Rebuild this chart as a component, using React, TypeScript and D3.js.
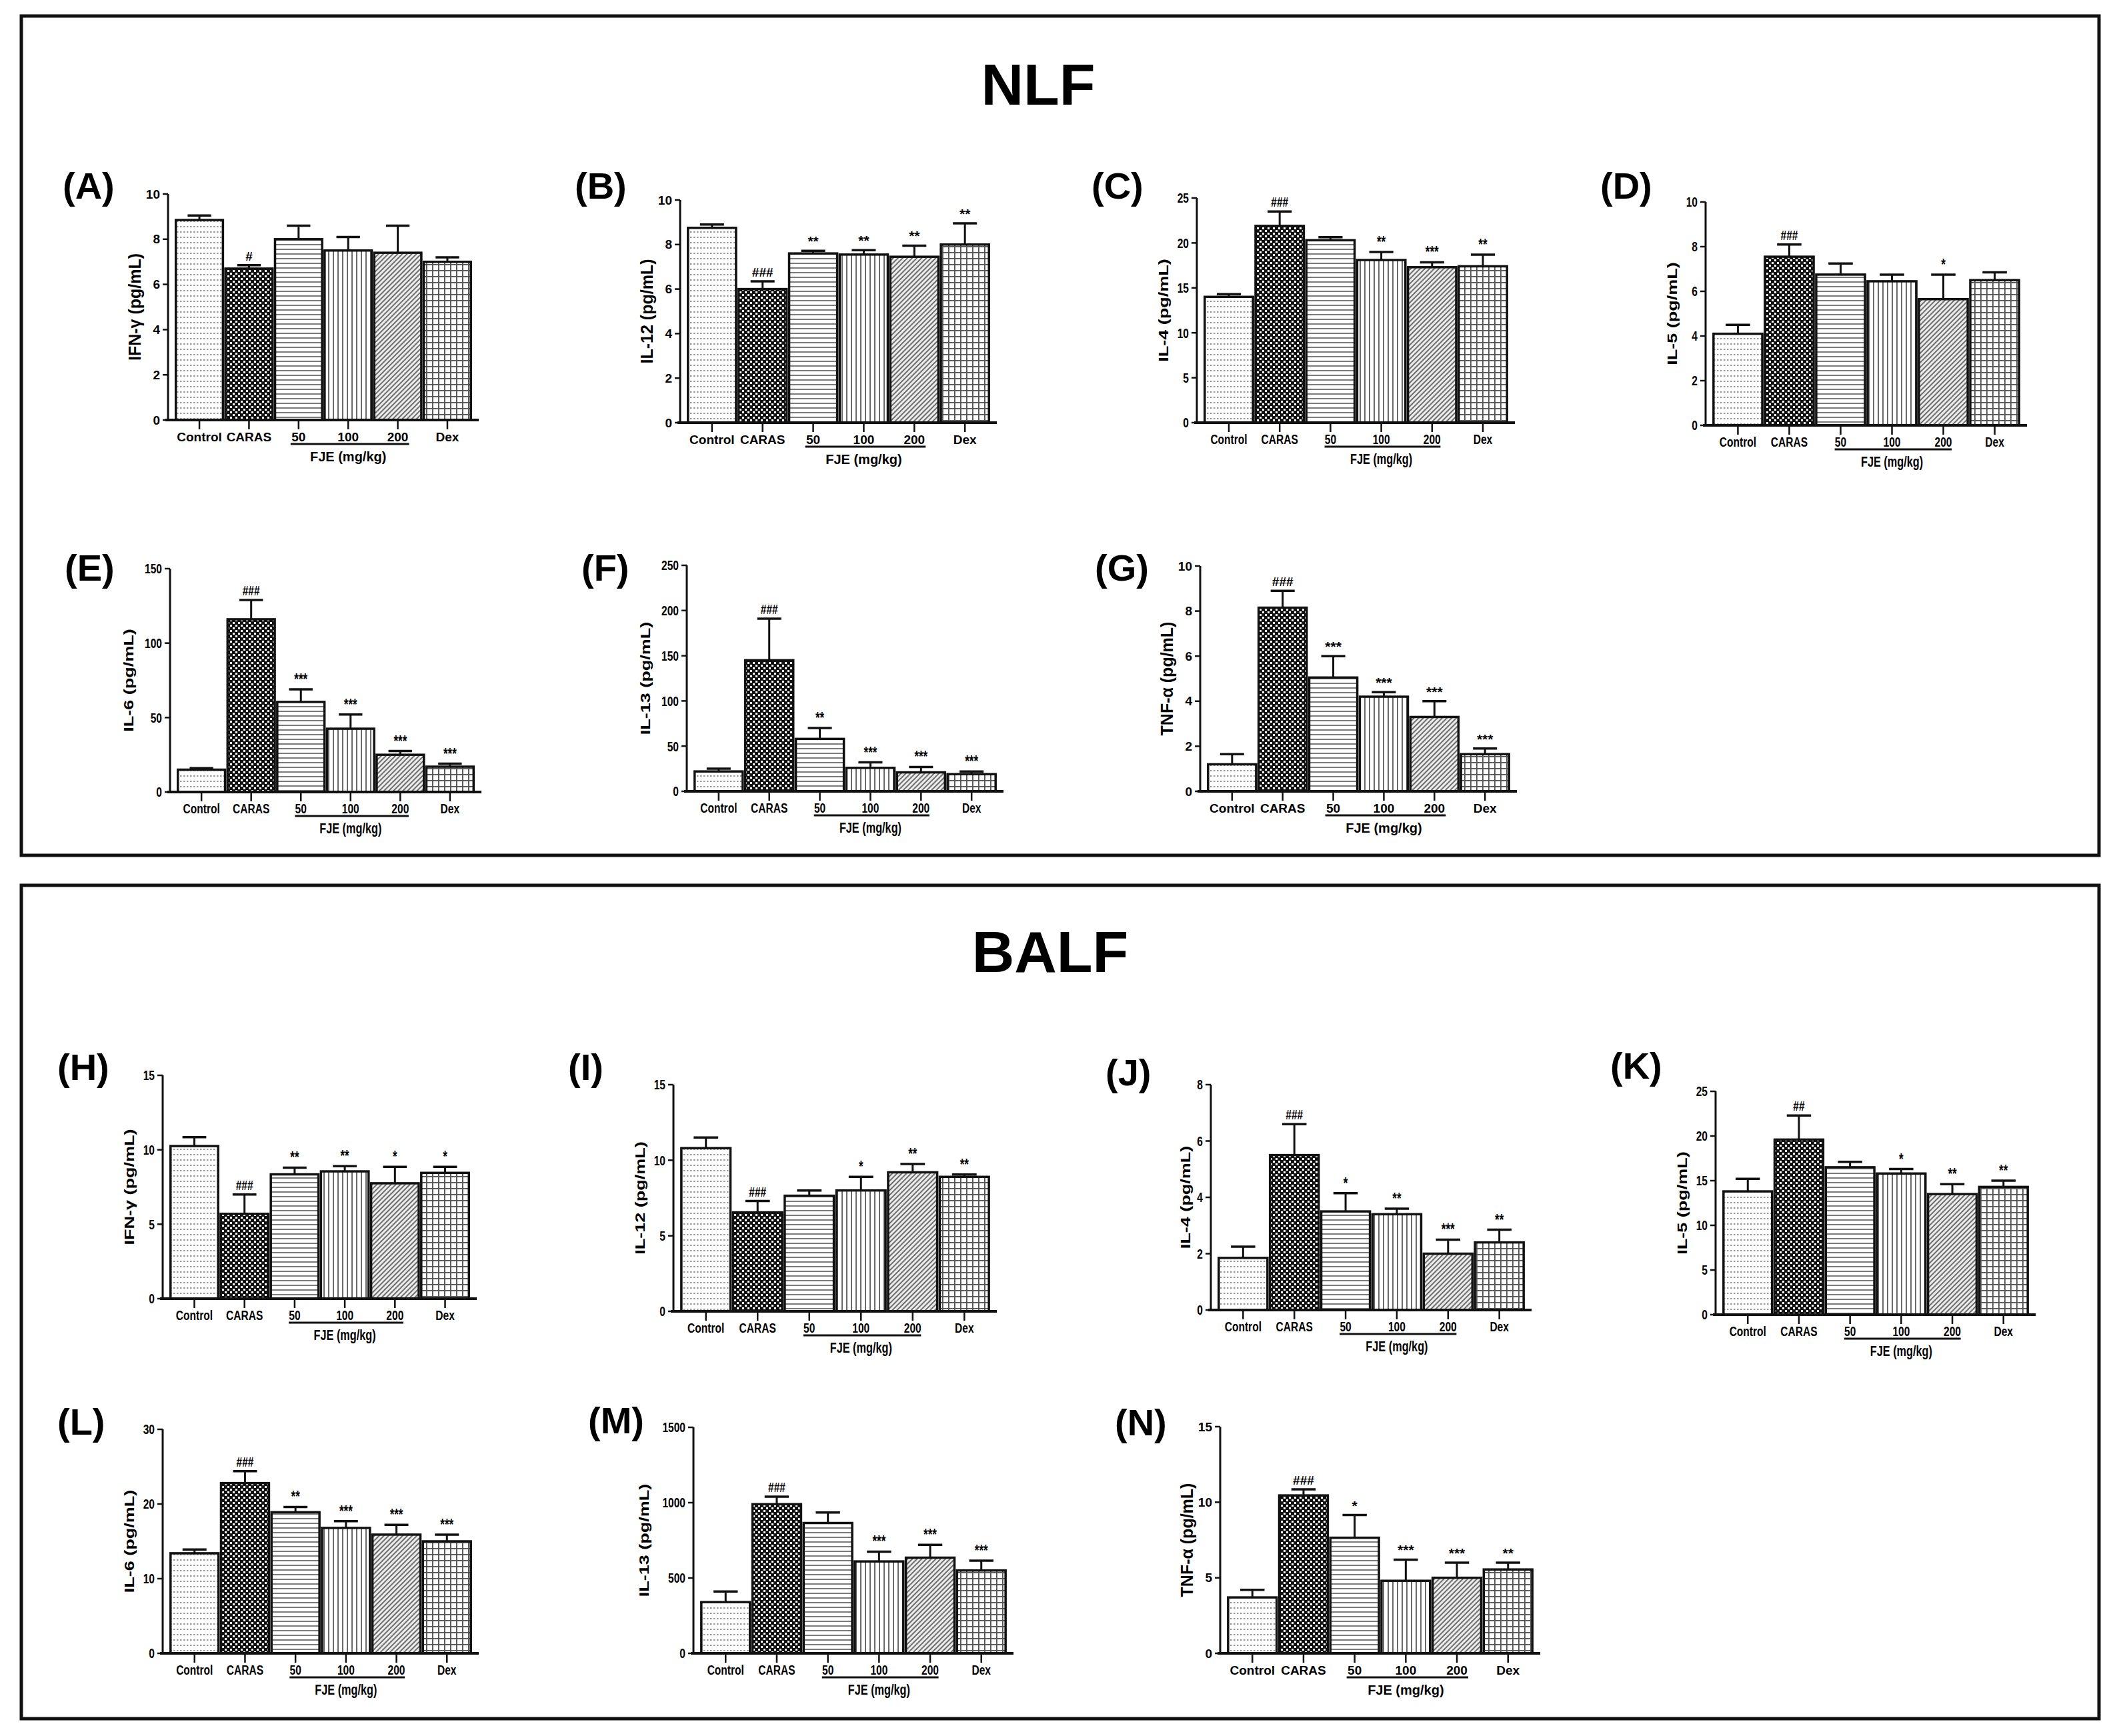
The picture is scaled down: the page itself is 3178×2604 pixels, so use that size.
import React from "react";
import * as d3 from "d3";

// groups on the x axis
const categories = ["Control", "CARAS", "50", "100", "200", "Dex"];

// NLF
const nlfIfnMean = [8.85, 6.7, 8.0, 7.5, 7.4, 7.0];
const nlfIfnErr = [0.2, 0.15, 0.6, 0.6, 1.2, 0.2];
const nlfIfnSig = ["", "#", "", "", "", ""];
const nlfIfnTicks = [0, 2, 4, 6, 8, 10];

const nlfIl12Mean = [8.75, 6.0, 7.6, 7.55, 7.45, 8.0];
const nlfIl12Err = [0.15, 0.35, 0.12, 0.2, 0.5, 0.95];
const nlfIl12Sig = ["", "###", "**", "**", "**", "**"];
const nlfIl12Ticks = [0, 2, 4, 6, 8, 10];

const nlfIl4Mean = [14.0, 21.9, 20.3, 18.1, 17.3, 17.4];
const nlfIl4Err = [0.3, 1.6, 0.35, 0.9, 0.55, 1.3];
const nlfIl4Sig = ["", "###", "", "**", "***", "**"];
const nlfIl4Ticks = [0, 5, 10, 15, 20, 25];

const nlfIl5Mean = [4.1, 7.55, 6.75, 6.45, 5.65, 6.5];
const nlfIl5Err = [0.4, 0.55, 0.5, 0.3, 1.1, 0.35];
const nlfIl5Sig = ["", "###", "", "", "*", ""];
const nlfIl5Ticks = [0, 2, 4, 6, 8, 10];

const nlfIl6Mean = [15, 116, 60.5, 42.5, 25, 17];
const nlfIl6Err = [1, 13, 8.5, 9.5, 2.5, 2];
const nlfIl6Sig = ["", "###", "***", "***", "***", "***"];
const nlfIl6Ticks = [0, 50, 100, 150];

const nlfIl13Mean = [22, 145, 58, 26, 21, 19];
const nlfIl13Err = [3, 46, 12, 6, 6, 3];
const nlfIl13Sig = ["", "###", "**", "***", "***", "***"];
const nlfIl13Ticks = [0, 50, 100, 150, 200, 250];

const nlfTnfMean = [1.2, 8.15, 5.05, 4.2, 3.3, 1.65];
const nlfTnfErr = [0.45, 0.75, 0.95, 0.2, 0.7, 0.25];
const nlfTnfSig = ["", "###", "***", "***", "***", "***"];
const nlfTnfTicks = [0, 2, 4, 6, 8, 10];

// BALF
const balfIfnMean = [10.25, 5.7, 8.35, 8.55, 7.75, 8.45];
const balfIfnErr = [0.6, 1.3, 0.45, 0.35, 1.1, 0.4];
const balfIfnSig = ["", "###", "**", "**", "*", "*"];
const balfIfnTicks = [0, 5, 10, 15];

const balfIl12Mean = [10.8, 6.55, 7.65, 8.0, 9.2, 8.9];
const balfIl12Err = [0.7, 0.75, 0.35, 0.9, 0.55, 0.15];
const balfIl12Sig = ["", "###", "", "*", "**", "**"];
const balfIl12Ticks = [0, 5, 10, 15];

const balfIl4Mean = [1.85, 5.5, 3.5, 3.4, 2.0, 2.4];
const balfIl4Err = [0.4, 1.1, 0.65, 0.2, 0.5, 0.45];
const balfIl4Sig = ["", "###", "*", "**", "***", "**"];
const balfIl4Ticks = [0, 2, 4, 6, 8];

const balfIl5Mean = [13.8, 19.6, 16.5, 15.8, 13.5, 14.3];
const balfIl5Err = [1.4, 2.7, 0.6, 0.5, 1.1, 0.7];
const balfIl5Sig = ["", "##", "", "*", "**", "**"];
const balfIl5Ticks = [0, 5, 10, 15, 20, 25];

const balfIl6Mean = [13.4, 22.8, 18.9, 16.8, 15.9, 15.0];
const balfIl6Err = [0.5, 1.6, 0.7, 0.9, 1.3, 0.9];
const balfIl6Sig = ["", "###", "**", "***", "***", "***"];
const balfIl6Ticks = [0, 10, 20, 30];

const balfIl13Mean = [340, 990, 865, 610, 635, 550];
const balfIl13Err = [70, 50, 70, 65, 85, 65];
const balfIl13Sig = ["", "###", "", "***", "***", "***"];
const balfIl13Ticks = [0, 500, 1000, 1500];

const balfTnfMean = [3.7, 10.45, 7.65, 4.8, 5.0, 5.55];
const balfTnfErr = [0.5, 0.4, 1.5, 1.4, 1.0, 0.45];
const balfTnfSig = ["", "###", "*", "***", "***", "**"];
const balfTnfTicks = [0, 5, 10, 15];

const fills = ["url(#pDots)", "url(#pCheck)", "url(#pHoriz)", "url(#pVert)", "url(#pDiag)", "url(#pGrid)"];

interface PanelDef {
	tag: string;
	ylab: string;
	mean: number[];
	err: number[];
	sig: string[];
	ticks: number[];
	narrow: boolean;
	ax: number;
	top: number;
	bot: number;
	end: number;
	tagY: number;
}

const panels: PanelDef[] = [
	{ tag: "(A)", ylab: "IFN-\u03b3  (pg/mL)", mean: nlfIfnMean, err: nlfIfnErr, sig: nlfIfnSig, ticks: nlfIfnTicks, narrow: false, ax: 252, top: 291, bot: 630, end: 718, tagY: 278 },
	{ tag: "(B)", ylab: "IL-12  (pg/mL)", mean: nlfIl12Mean, err: nlfIl12Err, sig: nlfIl12Sig, ticks: nlfIl12Ticks, narrow: false, ax: 1020, top: 300, bot: 634, end: 1495, tagY: 278 },
	{ tag: "(C)", ylab: "IL-4  (pg/mL)", mean: nlfIl4Mean, err: nlfIl4Err, sig: nlfIl4Sig, ticks: nlfIl4Ticks, narrow: true, ax: 1795, top: 297, bot: 634, end: 2272, tagY: 278 },
	{ tag: "(D)", ylab: "IL-5  (pg/mL)", mean: nlfIl5Mean, err: nlfIl5Err, sig: nlfIl5Sig, ticks: nlfIl5Ticks, narrow: true, ax: 2558, top: 303, bot: 638, end: 3040, tagY: 278 },
	{ tag: "(E)", ylab: "IL-6  (pg/mL)", mean: nlfIl6Mean, err: nlfIl6Err, sig: nlfIl6Sig, ticks: nlfIl6Ticks, narrow: true, ax: 255, top: 853, bot: 1188, end: 722, tagY: 851 },
	{ tag: "(F)", ylab: "IL-13  (pg/mL)", mean: nlfIl13Mean, err: nlfIl13Err, sig: nlfIl13Sig, ticks: nlfIl13Ticks, narrow: true, ax: 1030, top: 848, bot: 1187, end: 1505, tagY: 851 },
	{ tag: "(G)", ylab: "TNF-\u03b1 (pg/mL)", mean: nlfTnfMean, err: nlfTnfErr, sig: nlfTnfSig, ticks: nlfTnfTicks, narrow: false, ax: 1800, top: 849, bot: 1187, end: 2275, tagY: 851 },
	{ tag: "(H)", ylab: "IFN-\u03b3  (pg/mL)", mean: balfIfnMean, err: balfIfnErr, sig: balfIfnSig, ticks: balfIfnTicks, narrow: true, ax: 244, top: 1613, bot: 1948, end: 715, tagY: 1600 },
	{ tag: "(I)", ylab: "IL-12  (pg/mL)", mean: balfIl12Mean, err: balfIl12Err, sig: balfIl12Sig, ticks: balfIl12Ticks, narrow: true, ax: 1010, top: 1627, bot: 1967, end: 1495, tagY: 1600 },
	{ tag: "(J)", ylab: "IL-4  (pg/mL)", mean: balfIl4Mean, err: balfIl4Err, sig: balfIl4Sig, ticks: balfIl4Ticks, narrow: true, ax: 1816, top: 1627, bot: 1965, end: 2297, tagY: 1608 },
	{ tag: "(K)", ylab: "IL-5  (pg/mL)", mean: balfIl5Mean, err: balfIl5Err, sig: balfIl5Sig, ticks: balfIl5Ticks, narrow: true, ax: 2573, top: 1637, bot: 1972, end: 3053, tagY: 1598 },
	{ tag: "(L)", ylab: "IL-6  (pg/mL)", mean: balfIl6Mean, err: balfIl6Err, sig: balfIl6Sig, ticks: balfIl6Ticks, narrow: true, ax: 244, top: 2144, bot: 2480, end: 718, tagY: 2132 },
	{ tag: "(M)", ylab: "IL-13  (pg/mL)", mean: balfIl13Mean, err: balfIl13Err, sig: balfIl13Sig, ticks: balfIl13Ticks, narrow: true, ax: 1040, top: 2141, bot: 2480, end: 1520, tagY: 2130 },
	{ tag: "(N)", ylab: "TNF-\u03b1 (pg/mL)", mean: balfTnfMean, err: balfTnfErr, sig: balfTnfSig, ticks: balfTnfTicks, narrow: false, ax: 1830, top: 2140, bot: 2480, end: 2310, tagY: 2133 },
];

const font = "'Liberation Sans', Arial, Helvetica, sans-serif";

function Panel({ p }: { p: PanelDef }) {
	const sx = p.narrow ? 0.74 : 1;
	const fs = p.narrow ? 21 : 19; // narrow panels were squeezed from a wider original
	const y = d3
		.scaleLinear()
		.domain([0, p.ticks[p.ticks.length - 1]])
		.range([p.bot, p.top]);
	const x = d3
		.scaleBand()
		.domain(categories)
		.range([p.ax + 8, p.end - 8])
		.paddingInner(0.05)
		.paddingOuter(0.05);
	const bw = x.bandwidth();
	const cx = (c: string) => (x(c) || 0) + bw / 2;
	const catY = p.bot + 32;
	// push the axis title left when tick labels are wide
	const digits = String(p.ticks[p.ticks.length - 1]).length;
	const labOff = 50 + (digits - 2) * 12;

	return (
		<g fontFamily={font} fontWeight="bold" fill="#000">
			{/* panel tag */}
			<text x={p.ax - 158} y={p.tagY} fontSize={56} dominantBaseline="central">
				{p.tag}
			</text>

			{/* bars */}
			{p.mean.map((m, i) => (
				<rect
					key={i}
					x={x(categories[i])}
					y={y(m)}
					width={bw}
					height={p.bot - y(m)}
					fill={fills[i]}
					stroke="#111"
					strokeWidth={3.5}
				/>
			))}

			{/* error bars */}
			{p.mean.map((m, i) => {
				const c = cx(categories[i]);
				const t = y(m + p.err[i]);
				return (
					<g key={i} stroke="#111" strokeWidth={3}>
						<line x1={c} x2={c} y1={y(m)} y2={t} />
						<line x1={c - bw * 0.25} x2={c + bw * 0.25} y1={t} y2={t} strokeWidth={3.5} />
					</g>
				);
			})}

			{/* significance marks */}
			{p.sig.map((s, i) =>
				s ? (
					<text
						key={i}
						transform={`translate(${cx(categories[i])},${y(p.mean[i] + p.err[i]) - 7}) scale(${sx},1)`}
						textAnchor="middle"
						fontSize={s.startsWith("#") ? fs : fs + 2}
					>
						{s}
					</text>
				) : null
			)}

			{/* y axis */}
			<line x1={p.ax} x2={p.ax} y1={p.top} y2={p.bot} stroke="#111" strokeWidth={3} />
			{p.ticks.map((t) => (
				<g key={t}>
					<line x1={p.ax - 8} x2={p.ax} y1={y(t)} y2={y(t)} stroke="#111" strokeWidth={2.5} />
					<text
						transform={`translate(${p.ax - 12},${y(t)}) scale(${sx},1)`}
						textAnchor="end"
						dominantBaseline="central"
						fontSize={fs}
					>
						{t}
					</text>
				</g>
			))}
			<text
				transform={`translate(${p.ax - labOff},${(p.top + p.bot) / 2}) scale(${sx},1) rotate(-90)`}
				textAnchor="middle"
				dominantBaseline="central"
				fontSize={p.narrow ? 27 : 25}
			>
				{p.ylab}
			</text>

			{/* x axis */}
			<line x1={p.ax - 4} x2={p.end} y1={p.bot} y2={p.bot} stroke="#111" strokeWidth={4} />
			{categories.map((c) => (
				<g key={c}>
					<line x1={cx(c)} x2={cx(c)} y1={p.bot} y2={p.bot + 14} stroke="#111" strokeWidth={2.5} />
					<text
						transform={`translate(${cx(c)},${catY}) scale(${sx},1)`}
						textAnchor="middle"
						fontSize={fs}
					>
						{c}
					</text>
				</g>
			))}
			<line
				x1={cx("50") - 12 * sx}
				x2={cx("200") + 17 * sx}
				y1={catY + 4}
				y2={catY + 4}
				stroke="#111"
				strokeWidth={3}
			/>
			<text
				transform={`translate(${cx("100")},${p.bot + 62}) scale(${sx},1)`}
				textAnchor="middle"
				fontSize={fs + 1}
			>
				FJE (mg/kg)
			</text>
		</g>
	);
}

export default function App() {
	const width = 3178;
	const height = 2604;
	return (
		<svg
			width={width}
			height={height}
			style={{ position: "absolute", left: 0, top: 0, background: "#fff" }}
		>
			<defs>
				<pattern id="pDots" patternUnits="userSpaceOnUse" width={5} height={8}>
					<rect width={5} height={8} fill="#fff" />
					<rect x={0} y={3} width={2.5} height={2} fill="#9a9a9a" />
				</pattern>
				<pattern id="pCheck" patternUnits="userSpaceOnUse" width={8} height={8}>
					<rect width={8} height={8} fill="#111" />
					<rect x={1} y={1} width={3} height={3} fill="#fff" />
					<rect x={5} y={5} width={3} height={3} fill="#fff" />
				</pattern>
				<pattern id="pHoriz" patternUnits="userSpaceOnUse" width={8} height={7}>
					<rect width={8} height={7} fill="#fff" />
					<rect x={0} y={2} width={8} height={2} fill="#7a7a7a" />
				</pattern>
				<pattern id="pVert" patternUnits="userSpaceOnUse" width={7} height={8}>
					<rect width={7} height={8} fill="#fff" />
					<rect x={2} y={0} width={2} height={8} fill="#6a6a6a" />
				</pattern>
				<pattern id="pDiag" patternUnits="userSpaceOnUse" width={5} height={5} patternTransform="rotate(45)">
					<rect width={5} height={5} fill="#ececec" />
					<rect x={0} y={0} width={2} height={5} fill="#6e6e6e" />
				</pattern>
				<pattern id="pGrid" patternUnits="userSpaceOnUse" width={9} height={9}>
					<rect width={9} height={9} fill="#fff" />
					<rect x={0} y={0} width={9} height={1.8} fill="#555" />
					<rect x={0} y={0} width={1.8} height={9} fill="#555" />
				</pattern>
			</defs>

			<rect x={0} y={0} width={width} height={height} fill="#fff" />

			{/* section frames */}
			<rect x={32} y={24} width={3116} height={1259} fill="none" stroke="#111" strokeWidth={5} />
			<rect x={32} y={1328} width={3116} height={1250} fill="none" stroke="#111" strokeWidth={5} />

			<text x={1557} y={126} textAnchor="middle" dominantBaseline="central" fontFamily={font} fontWeight="bold" fontSize={88}>
				NLF
			</text>
			<text x={1575} y={1427} textAnchor="middle" dominantBaseline="central" fontFamily={font} fontWeight="bold" fontSize={88}>
				BALF
			</text>

			{panels.map((p) => (
				<Panel key={p.tag} p={p} />
			))}
		</svg>
	);
}
